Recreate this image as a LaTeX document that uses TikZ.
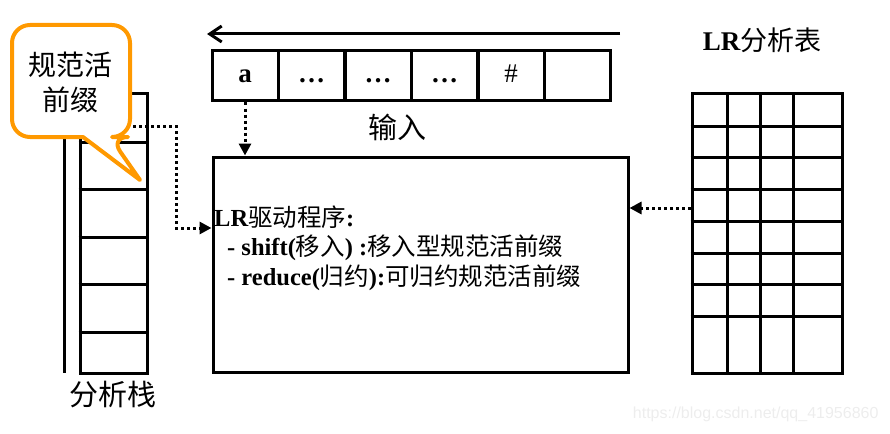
\documentclass[tikz,border=0pt]{standalone}
\usepackage{fontspec}
\setmainfont{Liberation Serif}
\newfontfamily\cjk{Noto Sans CJK SC}
\newfontfamily\wmfont{Liberation Sans}
\usetikzlibrary{arrows.meta}
\definecolor{bubor}{RGB}{255,153,0}
\begin{document}
\begin{tikzpicture}[x=1pt,y=-1pt,
  box/.style={draw, line width=3pt, inner sep=0pt},
  cell/.style={box, minimum width=66pt, minimum height=50pt, text height=19pt, text depth=5pt, font=\fontsize{27}{30}\selectfont},
  dotline/.style={line width=3pt, dash pattern=on 3pt off 3pt, -{Triangle[length=12pt,width=12pt]}},
  big/.style={font=\fontsize{29}{32}\selectfont\cjk},
]
\useasboundingbox (0,0) rectangle (890,433);

% input tape
\draw[line width=3pt, -{Straight Barb[length=12pt,width=16pt,line width=3pt]}] (620,34) coordinate (ta) -- (207,34) coordinate (tb);
\node[cell] (i1) at (245,76) {\bfseries a};
\node[cell] (i2) at (311.5,76) {\bfseries …};
\node[cell] (i3) at (378,76) {\bfseries …};
\node[cell] (i4) at (444.5,76) {\bfseries …};
\node[cell] (i5) at (511,76) {\#};
\node[cell] (i6) at (577.5,76) {};
\node[big, anchor=center] (inlab) at (397,127) {输入};

% driver
\node[box, minimum width=415pt, minimum height=215pt] (drv) at (420.5,264.5) {};
\node[anchor=west, align=left, inner sep=0pt, font=\fontsize{24.5}{29.5}\selectfont] (drvtxt) at (214,248)
 {{\bfseries LR}{\cjk 驱动程序}{\bfseries :}\\
  \hspace*{13pt}{\bfseries - shift(}{\cjk 移入}{\bfseries ) :}{\cjk 移入型规范活前缀}\\
  \hspace*{13pt}{\bfseries - reduce(}{\cjk 归约}{\bfseries ):}{\cjk 可归约规范活前缀}};

% stack
\draw[line width=3pt] (64,94) coordinate (sl1) -- (64,373) coordinate (sl2);
\node[box, minimum width=67pt, minimum height=279pt] (stack) at (113.5,233.5) {};
\foreach \yy in {142,189,237,284,332} \draw[line width=3pt] (stack.west |- 0,\yy) -- (stack.east |- 0,\yy);
\node[big] (stlab) at (113,395) {分析栈};

% table
\node[font=\fontsize{27}{30}\selectfont] (tbllab) at (762,40) {{\bfseries LR}{\cjk 分析表}};
\node[box, minimum width=150pt, minimum height=279pt] (tbl) at (767,233.5) {};
\foreach \xx in {727,760,793} \draw[line width=3pt] (\xx,94) -- (\xx,373);
\foreach \yy in {126,157,189,221,253,284,316} \draw[line width=3pt] (tbl.west |- 0,\yy) -- (tbl.east |- 0,\yy);

% connectors
\draw[dotline] (i1.south) -- (i1.south |- drv.north);
\draw[dotline] (tbl.west |- 0,208) -- (drv.east |- 0,208);
\coordinate (sd) at (133,126);
\draw[dotline] (sd) -- (176,126) -- (176,228) -- (drv.west |- 0,228);

% bubble
\draw[bubor, line width=4pt, fill=white, line join=round]
  (12,80) [rounded corners=18pt] -- (12,25) -- (130,25) -- (130,137) -- (110,137) [sharp corners] -- (140,180) -- (83,137) [rounded corners=18pt] -- (12,137) -- cycle;
\node[font=\fontsize{28}{35}\selectfont\cjk, align=center] (bubtxt) at (70,82) {规范活\\前缀};

% watermark
\node[font=\fontsize{16}{18}\selectfont\wmfont, text=black!7, anchor=east] (wm) at (882,414) {https://blog.csdn.net/qq\_41956860};
\end{tikzpicture}
\end{document}
